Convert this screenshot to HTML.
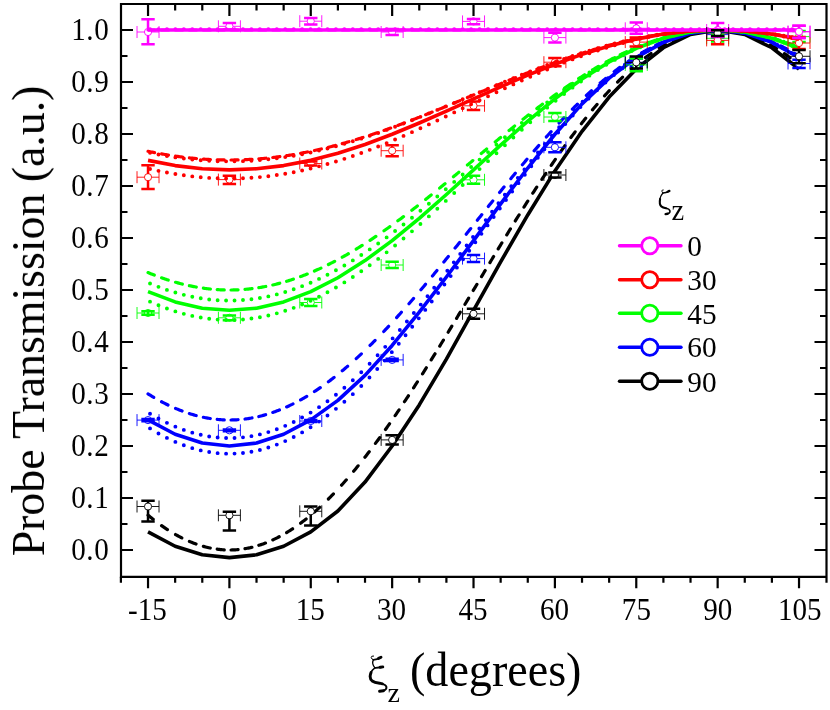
<!DOCTYPE html>
<html><head><meta charset="utf-8"><title>chart</title>
<style>
html,body{margin:0;padding:0;background:#fff;}
body{width:830px;height:710px;position:relative;overflow:hidden;font-family:"Liberation Serif",serif;}
.t{font-family:"Liberation Serif",serif;fill:#000;}
.tg{opacity:0.999;}
</style></head><body>
<svg width="830" height="710" viewBox="0 0 830 710" style="position:absolute;left:0;top:0">
<rect x="0" y="0" width="830" height="710" fill="#fff"/>
<path d="M148.03 531.81 L175.15 546.28 L202.28 554.79 L229.40 557.59 L256.52 554.79 L283.65 546.28 L310.77 531.81 L337.90 511.01 L365.02 482.08 L392.15 446.00 L419.27 404.93 L446.40 359.12 L473.52 310.28 L500.65 261.90 L527.77 214.94 L554.90 170.92 L582.02 131.32 L609.15 97.05 L636.27 68.99 L663.40 47.75 L690.52 34.49 L717.65 30.00 L744.77 34.49 L771.90 47.75 L799.02 68.99" stroke="#000000" fill="none" stroke-width="3.6" stroke-linejoin="round"/>
<g stroke="#000000" fill="none" stroke-linecap="round">
<path d="M148.03 515.17L149.11 516.07L150.19 516.96L151.28 517.84L152.37 518.71L153.18 519.35M161.59 525.64L162.67 526.40L163.76 527.15L164.84 527.89L165.93 528.62L167.01 529.33L167.42 529.60M175.56 534.55L176.64 535.16L177.73 535.76L178.81 536.35L179.90 536.92L180.98 537.48L181.80 537.90M189.39 541.43L190.48 541.89L191.56 542.33L192.65 542.76L193.73 543.18L194.82 543.59L195.90 543.98L196.04 544.03M203.36 546.36L204.44 546.66L205.53 546.94L206.62 547.21L207.70 547.47L208.78 547.72L209.87 547.95L210.28 548.03M217.19 549.20L218.28 549.33L219.36 549.46L220.45 549.57L221.53 549.67L222.62 549.75L223.70 549.83L224.25 549.86M231.03 549.99L232.11 549.96L233.20 549.92L234.28 549.87L235.37 549.81L236.45 549.73L237.54 549.64L238.08 549.59M245.00 548.69L246.08 548.50L247.17 548.30L248.25 548.09L249.34 547.86L250.42 547.63L251.51 547.37L251.91 547.28M258.83 545.35L259.92 545.00L261.00 544.64L262.09 544.27L263.17 543.89L264.26 543.49L265.34 543.08L265.48 543.03M272.80 539.93L273.88 539.42L274.97 538.90L276.06 538.37L277.14 537.83L278.23 537.27L279.17 536.78M286.63 532.57L287.72 531.91L288.80 531.24L289.89 530.55L290.97 529.86L292.06 529.15L292.60 528.80M300.60 523.19L301.69 522.38L302.77 521.56L303.86 520.73L304.94 519.89L306.03 519.03L306.16 518.92M314.44 512.04L315.52 511.09L316.61 510.13L317.69 509.16L318.78 508.18L319.73 507.31M328.41 499.00L329.49 497.92L330.58 496.82L331.66 495.72L332.75 494.60L333.42 493.90M341.56 485.18L342.65 483.97L343.73 482.76L344.82 481.54L345.90 480.31L346.31 479.84M353.63 471.26L354.72 469.96L355.80 468.64L356.89 467.32L357.97 465.99L358.11 465.82M364.89 457.30L365.97 455.90L367.06 454.50L368.14 453.09L369.23 451.68M375.47 443.37L376.55 441.90L377.64 440.43L378.72 438.94L379.67 437.64M385.50 429.51L386.59 427.97L387.67 426.43L388.76 424.88L389.57 423.72M395.13 415.65L396.22 414.06L397.30 412.46L398.39 410.86L399.07 409.85M404.49 401.73L405.58 400.09L406.66 398.44L407.75 396.79L408.43 395.75M413.58 387.82L414.66 386.13L415.75 384.45L416.83 382.75L417.38 381.90M422.53 373.79L423.62 372.07L424.70 370.34L425.79 368.62L426.33 367.75M431.21 359.92L432.29 358.17L433.38 356.42L434.46 354.66L435.01 353.78M439.75 346.05L440.84 344.28L441.92 342.50L443.01 340.72L443.42 340.06M448.16 332.24L449.25 330.45L450.33 328.65L451.42 326.86L451.82 326.19M456.57 318.31L457.66 316.50L458.74 314.69L459.83 312.89L460.23 312.21M464.98 304.29L466.07 302.47L467.15 300.66L468.24 298.85L468.64 298.17M473.25 290.45L474.34 288.64L475.42 286.82L476.51 285.01L476.92 284.33M481.53 276.62L482.61 274.81L483.70 273.00L484.78 271.18L485.19 270.51M489.94 262.60L491.02 260.79L492.11 258.99L493.19 257.19L493.60 256.51M498.21 248.88L499.29 247.09L500.38 245.30L501.46 243.51L501.87 242.84M506.75 234.83L507.84 233.06L508.92 231.29L510.01 229.52L510.41 228.86M515.30 220.96L516.38 219.21L517.47 217.46L518.55 215.72L519.10 214.85M523.98 207.07L525.06 205.35L526.15 203.64L527.23 201.93L527.77 201.07M532.79 193.23L533.88 191.55L534.96 189.87L536.05 188.20L536.73 187.16M541.88 179.30L542.97 177.66L544.05 176.02L545.13 174.39L545.81 173.38M551.24 165.34L552.32 163.75L553.41 162.17L554.49 160.59L555.31 159.41M560.87 151.45L561.95 149.92L563.04 148.39L564.12 146.88L564.94 145.74M570.90 137.54L571.99 136.08L573.07 134.62L574.16 133.17L575.11 131.90M581.35 123.75L582.43 122.35L583.52 120.97L584.60 119.60L585.69 118.23M592.47 109.88L593.55 108.57L594.64 107.28L595.72 105.99L596.81 104.71L597.08 104.40M604.54 95.87L605.62 94.67L606.71 93.48L607.79 92.29L608.88 91.12L609.29 90.68M617.56 82.08L618.64 81.00L619.73 79.92L620.81 78.86L621.90 77.80L622.58 77.15M631.53 68.91L632.61 67.96L633.70 67.02L634.78 66.09L635.87 65.17L636.95 64.27M645.36 57.62L646.45 56.81L647.53 56.02L648.62 55.23L649.70 54.46L650.79 53.69L651.06 53.50M659.33 48.09L660.42 47.43L661.50 46.78L662.59 46.15L663.67 45.53L664.76 44.91L665.43 44.54M673.16 40.58L674.25 40.07L675.34 39.58L676.42 39.10L677.50 38.63L678.59 38.17L679.67 37.72M687.13 35.00L688.22 34.65L689.30 34.31L690.39 33.99L691.47 33.68L692.56 33.38L693.64 33.10L693.92 33.03M700.97 31.50L702.05 31.31L703.14 31.13L704.22 30.97L705.31 30.82L706.39 30.68L707.48 30.56L708.02 30.50M714.94 30.04L716.02 30.01L717.11 30.00L718.19 30.00L719.28 30.01L720.36 30.04L721.45 30.08L721.99 30.10M728.77 30.67L729.86 30.80L730.94 30.95L732.03 31.11L733.11 31.29L734.20 31.47L735.28 31.67L735.69 31.75M742.74 33.38L743.83 33.68L744.91 33.99L746.00 34.31L747.08 34.65L748.17 35.00L749.25 35.36L749.52 35.45M756.57 38.11L757.66 38.57L758.74 39.04L759.83 39.52L760.91 40.01L762.00 40.51L763.08 41.03M770.54 44.91L771.63 45.53L772.71 46.15L773.80 46.78L774.88 47.43L775.97 48.09L776.65 48.51M784.38 53.60L785.46 54.36L786.55 55.13L787.63 55.92L788.72 56.71L789.80 57.52L790.07 57.72M798.35 64.27L799.02 64.83" stroke-width="3.2"/>
</g>
<g stroke="#0000ff" fill="none">
<circle cx="148.03" cy="420.10" r="3.6" fill="#fff" stroke-width="0.9"/>
<path d="M137.03 420.10H144.43M151.62 420.10H159.03M137.03 414.10V426.10M159.03 414.10V426.10" stroke-width="0.9"/>
<path d="M148.03 418.90V421.30M141.33 418.90H154.72M141.33 421.30H154.72" stroke-width="2.5"/>
</g>
<g stroke="#0000ff" fill="none">
<circle cx="229.40" cy="430.30" r="3.6" fill="#fff" stroke-width="0.9"/>
<path d="M218.40 430.30H225.80M233.00 430.30H240.40M218.40 424.30V436.30M240.40 424.30V436.30" stroke-width="0.9"/>
<path d="M229.40 429.40V431.20M222.70 429.40H236.10M222.70 431.20H236.10" stroke-width="2.5"/>
</g>
<g stroke="#0000ff" fill="none">
<circle cx="310.77" cy="421.00" r="3.6" fill="#fff" stroke-width="0.9"/>
<path d="M299.77 421.00H307.17M314.38 421.00H321.77M299.77 415.00V427.00M321.77 415.00V427.00" stroke-width="0.9"/>
<path d="M310.77 419.90V422.10M304.07 419.90H317.47M304.07 422.10H317.47" stroke-width="2.5"/>
</g>
<g stroke="#0000ff" fill="none">
<circle cx="392.15" cy="359.90" r="3.6" fill="#fff" stroke-width="0.9"/>
<path d="M381.15 359.90H388.55M395.75 359.90H403.15M381.15 353.90V365.90M403.15 353.90V365.90" stroke-width="0.9"/>
<path d="M392.15 358.80V361.00M385.45 358.80H398.85M385.45 361.00H398.85" stroke-width="2.5"/>
</g>
<g stroke="#0000ff" fill="none">
<circle cx="473.52" cy="258.60" r="3.6" fill="#fff" stroke-width="0.9"/>
<path d="M462.52 258.60H469.92M477.12 258.60H484.52M462.52 252.60V264.60M484.52 252.60V264.60" stroke-width="0.9"/>
<path d="M473.52 255.30V255.00M466.82 255.00H480.22M466.82 262.00H480.22" stroke-width="2.5"/>
</g>
<g stroke="#0000ff" fill="none">
<circle cx="554.90" cy="147.30" r="3.6" fill="#fff" stroke-width="0.9"/>
<path d="M543.90 147.30H551.30M558.50 147.30H565.90M543.90 141.30V153.30M565.90 141.30V153.30" stroke-width="0.9"/>
<path d="M554.90 144.00V142.30M554.90 150.60V152.30M548.20 142.30H561.60M548.20 152.30H561.60" stroke-width="2.5"/>
</g>
<g stroke="#0000ff" fill="none">
<circle cx="636.27" cy="62.40" r="3.6" fill="#fff" stroke-width="0.9"/>
<path d="M625.27 62.40H632.67M639.88 62.40H647.27M625.27 56.40V68.40M647.27 56.40V68.40" stroke-width="0.9"/>
<path d="M636.27 59.10V58.60M636.27 65.70V66.20M629.57 58.60H642.98M629.57 66.20H642.98" stroke-width="2.5"/>
</g>
<g stroke="#0000ff" fill="none">
<circle cx="717.65" cy="34.60" r="3.6" fill="#fff" stroke-width="0.9"/>
<path d="M706.65 34.60H714.05M721.25 34.60H728.65M706.65 28.60V40.60M728.65 28.60V40.60" stroke-width="0.9"/>
<path d="M710.95 31.60H724.35M710.95 37.60H724.35" stroke-width="2.5"/>
</g>
<g stroke="#0000ff" fill="none">
<circle cx="799.02" cy="63.50" r="3.6" fill="#fff" stroke-width="0.9"/>
<path d="M788.02 63.50H795.42M802.62 63.50H810.02M788.02 57.50V69.50M810.02 57.50V69.50" stroke-width="0.9"/>
<path d="M799.02 60.20V59.80M799.02 66.80V68.10M792.32 59.80H805.73M792.32 68.10H805.73" stroke-width="2.5"/>
</g>
<path d="M148.03 419.87 L175.15 434.24 L202.28 443.04 L229.40 446.00 L256.52 443.04 L283.65 434.24 L310.77 419.87 L337.90 400.36 L365.02 375.40 L392.15 345.42 L419.27 312.09 L446.40 276.99 L473.52 240.60 L500.65 203.84 L527.77 168.03 L554.90 134.25 L582.02 103.91 L609.15 78.17 L636.27 57.46 L663.40 42.32 L690.52 33.10 L717.65 30.00 L744.77 33.10 L771.90 42.32 L799.02 57.46" stroke="#0000ff" fill="none" stroke-width="3.6" stroke-linejoin="round"/>
<g stroke="#0000ff" fill="none" stroke-linecap="round">
<path d="M148.03 393.87L149.11 394.55L150.19 395.22L151.28 395.88L152.37 396.53L153.45 397.17L153.72 397.33M161.59 401.73L162.67 402.30L163.76 402.86L164.84 403.42L165.93 403.96L167.01 404.50L167.96 404.96M175.56 408.41L176.64 408.87L177.73 409.32L178.81 409.76L179.90 410.19L180.98 410.61L182.07 411.03M189.39 413.57L190.48 413.92L191.56 414.25L192.65 414.57L193.73 414.89L194.82 415.19L195.90 415.49L196.17 415.56M203.36 417.27L204.44 417.49L205.53 417.70L206.62 417.91L207.70 418.10L208.78 418.29L209.87 418.46L210.28 418.53M217.19 419.40L218.28 419.50L219.36 419.59L220.45 419.68L221.53 419.75L222.62 419.81L223.70 419.87L224.25 419.89M231.03 419.99L232.11 419.97L233.20 419.94L234.28 419.90L235.37 419.86L236.45 419.80L237.54 419.73L238.08 419.70M245.00 419.02L246.08 418.88L247.17 418.73L248.25 418.57L249.34 418.40L250.42 418.22L251.51 418.03L252.05 417.93M258.83 416.51L259.92 416.25L261.00 415.98L262.09 415.70L263.17 415.41L264.26 415.12L265.34 414.81L265.61 414.73M272.80 412.45L273.88 412.07L274.97 411.68L276.06 411.28L277.14 410.87L278.23 410.46L279.31 410.03L279.45 409.98M286.63 406.93L287.72 406.43L288.80 405.93L289.89 405.42L290.97 404.89L292.06 404.37L293.01 403.89M300.60 399.89L301.69 399.28L302.77 398.67L303.86 398.05L304.94 397.41L306.03 396.77L306.71 396.37M314.44 391.53L315.52 390.82L316.61 390.10L317.69 389.37L318.78 388.63L319.86 387.89L320.27 387.61M328.41 381.75L329.49 380.94L330.58 380.12L331.66 379.29L332.75 378.45L333.83 377.61L334.10 377.40M342.24 370.82L343.32 369.91L344.41 369.00L345.50 368.08L346.58 367.15L347.66 366.21M356.21 358.61L357.29 357.62L358.38 356.61L359.46 355.61L360.55 354.59L361.36 353.83M370.04 345.46L371.13 344.38L372.21 343.30L373.30 342.22L374.38 341.13L375.06 340.44M383.74 331.49L384.83 330.35L385.91 329.20L387.00 328.05L388.08 326.89L388.62 326.31M396.63 317.60L397.71 316.40L398.80 315.19L399.88 313.98L400.97 312.77L401.37 312.31M408.97 303.69L410.05 302.44L411.14 301.19L412.22 299.94L413.31 298.68L413.58 298.36M420.90 289.77L421.99 288.49L423.07 287.20L424.16 285.91L425.24 284.61L425.51 284.29M432.43 275.96L433.52 274.65L434.60 273.33L435.69 272.01L436.77 270.69L436.91 270.52M443.82 262.04L444.91 260.70L445.99 259.36L447.08 258.02L448.16 256.68L448.30 256.51M455.08 248.09L456.16 246.74L457.25 245.38L458.34 244.03L459.42 242.67L459.56 242.50M466.20 234.19L467.29 232.83L468.37 231.47L469.46 230.10L470.54 228.74L470.68 228.57M477.32 220.24L478.41 218.87L479.49 217.51L480.58 216.15L481.66 214.79L481.80 214.62M488.31 206.48L489.39 205.12L490.48 203.77L491.56 202.42L492.65 201.07L492.78 200.90M499.56 192.48L500.65 191.14L501.74 189.80L502.82 188.46L503.90 187.12L504.04 186.96M510.82 178.65L511.91 177.33L512.99 176.01L514.08 174.69L515.16 173.38L515.30 173.22M522.35 164.74L523.44 163.45L524.52 162.16L525.61 160.87L526.69 159.59L526.96 159.27M534.15 150.85L535.23 149.59L536.32 148.34L537.40 147.09L538.49 145.84L538.76 145.53M546.36 136.93L547.44 135.71L548.53 134.51L549.61 133.30L550.70 132.10L551.10 131.66M559.10 122.97L560.19 121.81L561.27 120.66L562.36 119.51L563.44 118.37L563.99 117.80M572.40 109.15L573.48 108.05L574.57 106.97L575.65 105.89L576.74 104.81L577.41 104.14M586.37 95.53L587.45 94.52L588.53 93.51L589.62 92.51L590.70 91.51L591.52 90.77M600.20 83.08L601.28 82.15L602.37 81.23L603.45 80.31L604.54 79.41L605.62 78.50M614.17 71.65L615.25 70.82L616.34 69.99L617.42 69.16L618.51 68.35L619.59 67.54L619.86 67.34M628.00 61.55L629.09 60.81L630.17 60.08L631.26 59.36L632.34 58.65L633.43 57.94L633.83 57.68M641.97 52.67L643.06 52.03L644.14 51.41L645.23 50.79L646.31 50.19L647.40 49.59L648.07 49.22M655.80 45.24L656.89 44.71L657.98 44.20L659.06 43.69L660.14 43.20L661.23 42.71L662.18 42.29M669.77 39.18L670.86 38.77L671.94 38.37L673.03 37.98L674.11 37.60L675.20 37.23L676.28 36.87L676.42 36.82M683.61 34.66L684.69 34.37L685.78 34.09L686.86 33.81L687.95 33.55L689.03 33.30L690.12 33.05L690.52 32.96M697.44 31.65L698.53 31.47L699.61 31.31L700.70 31.16L701.78 31.02L702.87 30.88L703.95 30.76L704.49 30.70M711.41 30.16L712.50 30.11L713.58 30.07L714.67 30.04L715.75 30.01L716.84 30.00L717.92 30.00L718.46 30.00M725.25 30.23L726.33 30.30L727.41 30.38L728.50 30.48L729.59 30.57L730.67 30.68L731.75 30.80L732.30 30.87M739.21 31.87L740.30 32.07L741.38 32.27L742.47 32.48L743.55 32.70L744.64 32.93L745.72 33.17L746.13 33.27M753.05 35.04L754.13 35.35L755.22 35.67L756.30 36.00L757.39 36.34L758.47 36.69L759.56 37.05L759.83 37.14M767.02 39.76L768.10 40.19L769.19 40.62L770.27 41.07L771.36 41.53L772.44 41.99L773.53 42.47M780.85 45.90L781.94 46.45L783.02 47.00L784.11 47.56L785.19 48.13L786.28 48.70L787.09 49.14M794.82 53.55L795.91 54.20L796.99 54.86L798.08 55.53L799.02 56.13" stroke-width="3.2"/>
<path d="M150.03 413.68h0.01M158.47 418.51h0.01M166.93 422.83h0.01M175.38 426.64h0.01M183.82 429.91h0.01M192.28 432.64h0.01M200.73 434.82h0.01M209.18 436.45h0.01M217.62 437.51h0.01M226.08 438.02h0.01M234.53 437.96h0.01M242.98 437.33h0.01M251.43 436.15h0.01M259.88 434.40h0.01M268.33 432.10h0.01M276.78 429.26h0.01M285.23 425.87h0.01M293.68 421.96h0.01M302.12 417.53h0.01M310.57 412.59h0.01M319.02 407.17h0.01M327.47 401.26h0.01M335.92 394.80h0.01M344.37 387.79h0.01M352.82 380.24h0.01M361.27 372.18h0.01M369.62 363.75h0.01M377.58 355.30h0.01M385.23 346.85h0.01M392.63 338.40h0.01M399.83 329.95h0.01M406.90 321.50h0.01M413.85 313.05h0.01M420.73 304.60h0.01M427.50 296.15h0.01M434.18 287.70h0.01M440.79 279.25h0.01M447.32 270.80h0.01M453.80 262.35h0.01M460.24 253.90h0.01M466.63 245.45h0.01M473.01 237.00h0.01M479.36 228.55h0.01M485.71 220.10h0.01M492.06 211.65h0.01M498.43 203.20h0.01M504.84 194.75h0.01M511.30 186.30h0.01M517.83 177.85h0.01M524.44 169.40h0.01M531.14 160.95h0.01M537.92 152.50h0.01M544.83 144.05h0.01M551.90 135.60h0.01M559.15 127.15h0.01M566.65 118.70h0.01M574.44 110.25h0.01M582.60 101.80h0.01M591.04 93.50h0.01M599.49 85.63h0.01M607.94 78.21h0.01M616.39 71.26h0.01M624.84 64.81h0.01M633.29 58.87h0.01M641.74 53.46h0.01M650.19 48.58h0.01M658.64 44.26h0.01M667.09 40.49h0.01M675.54 37.29h0.01M683.99 34.67h0.01M692.44 32.62h0.01M700.89 31.16h0.01M709.34 30.29h0.01M717.79 30.00h0.01M726.24 30.30h0.01M734.69 31.20h0.01M743.14 32.68h0.01M751.59 34.74h0.01M760.04 37.39h0.01M768.49 40.61h0.01M776.94 44.39h0.01M785.39 48.74h0.01M793.84 53.63h0.01" stroke-width="3.9"/>
<path d="M150.03 428.40h0.01M158.47 433.43h0.01M166.93 437.92h0.01M175.38 441.88h0.01M183.82 445.29h0.01M192.28 448.13h0.01M200.73 450.38h0.01M209.18 452.06h0.01M217.62 453.16h0.01M226.08 453.67h0.01M234.53 453.61h0.01M242.98 452.97h0.01M251.43 451.75h0.01M259.88 449.95h0.01M268.33 447.57h0.01M276.78 444.61h0.01M285.23 441.09h0.01M293.68 437.01h0.01M302.12 432.40h0.01M310.57 427.26h0.01M319.02 421.61h0.01M327.47 415.47h0.01M335.92 408.86h0.01M344.37 401.78h0.01M352.82 394.15h0.01M361.27 385.96h0.01M369.46 377.51h0.01M377.22 369.06h0.01M384.65 360.61h0.01M391.81 352.16h0.01M398.76 343.71h0.01M405.54 335.26h0.01M412.20 326.81h0.01M418.76 318.36h0.01M425.27 309.91h0.01M431.72 301.46h0.01M438.10 293.01h0.01M444.41 284.56h0.01M450.66 276.11h0.01M456.88 267.66h0.01M463.05 259.21h0.01M469.20 250.76h0.01M475.33 242.31h0.01M481.44 233.86h0.01M487.55 225.41h0.01M493.67 216.96h0.01M499.81 208.51h0.01M505.97 200.06h0.01M512.19 191.61h0.01M518.47 183.16h0.01M524.82 174.71h0.01M531.27 166.26h0.01M537.80 157.81h0.01M544.44 149.36h0.01M551.21 140.91h0.01M558.15 132.46h0.01M565.30 124.01h0.01M572.71 115.56h0.01M580.43 107.11h0.01M588.54 98.66h0.01M596.98 90.33h0.01M605.43 82.46h0.01M613.88 75.08h0.01M622.33 68.20h0.01M630.78 61.85h0.01M639.23 56.05h0.01M647.68 50.80h0.01M656.13 46.13h0.01M664.58 42.03h0.01M673.03 38.52h0.01M681.48 35.61h0.01M689.93 33.30h0.01M698.38 31.60h0.01M706.83 30.50h0.01M715.28 30.02h0.01M723.73 30.16h0.01M732.18 30.91h0.01M740.63 32.27h0.01M749.08 34.24h0.01M757.53 36.81h0.01M765.98 39.98h0.01M774.43 43.75h0.01M782.88 48.10h0.01M791.33 53.03h0.01" stroke-width="3.9"/>
</g>
<g stroke="#00ff00" fill="none">
<circle cx="148.03" cy="313.00" r="3.6" fill="#fff" stroke-width="0.9"/>
<path d="M137.03 313.00H144.43M151.62 313.00H159.03M137.03 307.00V319.00M159.03 307.00V319.00" stroke-width="0.9"/>
<path d="M148.03 311.20V314.80M141.33 311.20H154.72M141.33 314.80H154.72" stroke-width="2.5"/>
</g>
<g stroke="#00ff00" fill="none">
<circle cx="229.40" cy="317.80" r="3.6" fill="#fff" stroke-width="0.9"/>
<path d="M218.40 317.80H225.80M233.00 317.80H240.40M218.40 311.80V323.80M240.40 311.80V323.80" stroke-width="0.9"/>
<path d="M222.70 315.40H236.10M222.70 320.20H236.10" stroke-width="2.5"/>
</g>
<g stroke="#00ff00" fill="none">
<circle cx="310.77" cy="302.50" r="3.6" fill="#fff" stroke-width="0.9"/>
<path d="M299.77 302.50H307.17M314.38 302.50H321.77M299.77 296.50V308.50M321.77 296.50V308.50" stroke-width="0.9"/>
<path d="M304.07 299.00H317.47M304.07 306.00H317.47" stroke-width="2.5"/>
</g>
<g stroke="#00ff00" fill="none">
<circle cx="392.15" cy="265.00" r="3.6" fill="#fff" stroke-width="0.9"/>
<path d="M381.15 265.00H388.55M395.75 265.00H403.15M381.15 259.00V271.00M403.15 259.00V271.00" stroke-width="0.9"/>
<path d="M385.45 261.80H398.85M385.45 268.10H398.85" stroke-width="2.5"/>
</g>
<g stroke="#00ff00" fill="none">
<circle cx="473.52" cy="179.80" r="3.6" fill="#fff" stroke-width="0.9"/>
<path d="M462.52 179.80H469.92M477.12 179.80H484.52M462.52 173.80V185.80M484.52 173.80V185.80" stroke-width="0.9"/>
<path d="M473.52 176.50V175.80M473.52 183.10V183.80M466.82 175.80H480.22M466.82 183.80H480.22" stroke-width="2.5"/>
</g>
<g stroke="#00ff00" fill="none">
<circle cx="554.90" cy="117.00" r="3.6" fill="#fff" stroke-width="0.9"/>
<path d="M543.90 117.00H551.30M558.50 117.00H565.90M543.90 111.00V123.00M565.90 111.00V123.00" stroke-width="0.9"/>
<path d="M554.90 113.70V113.00M554.90 120.30V121.00M548.20 113.00H561.60M548.20 121.00H561.60" stroke-width="2.5"/>
</g>
<g stroke="#00ff00" fill="none">
<circle cx="636.27" cy="64.90" r="3.6" fill="#fff" stroke-width="0.9"/>
<path d="M625.27 64.90H632.67M639.88 64.90H647.27M625.27 58.90V70.90M647.27 58.90V70.90" stroke-width="0.9"/>
<path d="M636.27 61.60V58.60M636.27 68.20V71.30M629.57 58.60H642.98M629.57 71.30H642.98" stroke-width="2.5"/>
</g>
<g stroke="#00ff00" fill="none">
<circle cx="717.65" cy="38.30" r="3.6" fill="#fff" stroke-width="0.9"/>
<path d="M706.65 38.30H714.05M721.25 38.30H728.65M706.65 32.30V44.30M728.65 32.30V44.30" stroke-width="0.9"/>
<path d="M710.95 35.00H724.35M710.95 41.50H724.35" stroke-width="2.5"/>
</g>
<g stroke="#00ff00" fill="none">
<circle cx="799.02" cy="36.60" r="3.6" fill="#fff" stroke-width="0.9"/>
<path d="M788.02 36.60H795.42M802.62 36.60H810.02M788.02 30.60V42.60M810.02 30.60V42.60" stroke-width="0.9"/>
<path d="M799.02 33.30V31.00M799.02 39.90V42.00M792.32 31.00H805.73M792.32 42.00H805.73" stroke-width="2.5"/>
</g>
<path d="M148.03 291.67 L175.15 301.90 L202.28 308.17 L229.40 310.28 L256.52 308.17 L283.65 301.90 L310.77 291.67 L337.90 277.76 L365.02 260.58 L392.15 240.60 L419.27 218.35 L446.40 194.50 L473.52 169.88 L500.65 145.15 L527.77 121.15 L554.90 98.90 L582.02 79.04 L609.15 62.01 L636.27 48.27 L663.40 38.20 L690.52 32.06 L717.65 30.00 L744.77 32.06 L771.90 38.20 L799.02 48.27" stroke="#00ff00" fill="none" stroke-width="3.6" stroke-linejoin="round"/>
<g stroke="#00ff00" fill="none" stroke-linecap="round">
<path d="M148.03 272.58L149.11 273.03L150.19 273.48L151.28 273.92L152.37 274.35L153.45 274.78L154.26 275.10M161.59 277.82L162.67 278.20L163.76 278.58L164.84 278.94L165.93 279.31L167.01 279.67L168.10 280.02L168.23 280.06M175.56 282.28L176.64 282.58L177.73 282.88L178.81 283.17L179.90 283.46L180.98 283.74L182.07 284.02L182.34 284.09M189.39 285.72L190.48 285.94L191.56 286.17L192.65 286.38L193.73 286.59L194.82 286.79L195.90 286.99L196.31 287.06M203.36 288.18L204.44 288.33L205.53 288.47L206.62 288.61L207.70 288.73L208.78 288.86L209.87 288.97L210.41 289.03M217.19 289.60L218.28 289.67L219.36 289.73L220.45 289.78L221.53 289.83L222.62 289.88L223.70 289.91L224.25 289.93M231.03 289.99L232.11 289.98L233.20 289.96L234.28 289.94L235.37 289.90L236.45 289.87L237.54 289.82L238.08 289.80M245.00 289.35L246.08 289.25L247.17 289.15L248.25 289.04L249.34 288.93L250.42 288.81L251.51 288.69L252.05 288.62M258.83 287.68L259.92 287.50L261.00 287.32L262.09 287.14L263.17 286.94L264.26 286.74L265.34 286.54L265.75 286.46M272.80 284.96L273.88 284.71L274.97 284.45L276.06 284.19L277.14 283.91L278.23 283.64L279.31 283.35L279.72 283.25M286.63 281.28L287.72 280.95L288.80 280.62L289.89 280.28L290.97 279.93L292.06 279.58L293.14 279.22L293.42 279.13M300.60 276.59L301.69 276.19L302.77 275.78L303.86 275.36L304.94 274.94L306.03 274.52L307.11 274.08L307.25 274.03M314.44 271.02L315.52 270.55L316.61 270.07L317.69 269.58L318.78 269.09L319.86 268.59L320.95 268.09M328.41 264.50L329.49 263.96L330.58 263.41L331.66 262.86L332.75 262.30L333.83 261.74L334.64 261.31M342.24 257.21L343.32 256.61L344.41 256.00L345.50 255.38L346.58 254.77L347.66 254.14L348.34 253.75M356.21 249.07L357.29 248.41L358.38 247.74L359.46 247.07L360.55 246.40L361.63 245.71L362.18 245.37M370.04 240.30L371.13 239.59L372.21 238.87L373.30 238.15L374.38 237.42L375.47 236.69L375.88 236.41M384.01 230.80L385.10 230.04L386.18 229.27L387.27 228.50L388.35 227.73L389.44 226.95L389.84 226.66M397.85 220.83L398.93 220.03L400.02 219.22L401.10 218.41L402.19 217.60L403.27 216.78L403.54 216.58M411.82 210.27L412.90 209.43L413.99 208.59L415.07 207.75L416.16 206.91L417.24 206.06L417.38 205.95M425.65 199.42L426.73 198.55L427.82 197.68L428.90 196.81L429.99 195.94L431.07 195.07L431.21 194.96M439.62 188.14L440.70 187.25L441.79 186.36L442.87 185.47L443.96 184.58L445.04 183.69M453.45 176.74L454.54 175.84L455.62 174.94L456.71 174.04L457.79 173.14L458.88 172.23M467.42 165.10L468.51 164.20L469.59 163.29L470.68 162.38L471.76 161.47L472.85 160.57M481.26 153.54L482.34 152.63L483.43 151.72L484.51 150.82L485.60 149.91L486.68 149.01M495.23 141.91L496.31 141.01L497.39 140.11L498.48 139.22L499.56 138.32L500.65 137.43M509.06 130.54L510.14 129.65L511.23 128.77L512.31 127.89L513.40 127.01L514.48 126.13L514.62 126.02M523.03 119.29L524.11 118.43L525.20 117.57L526.28 116.71L527.37 115.86L528.45 115.00L528.59 114.90M536.86 108.47L537.95 107.64L539.03 106.81L540.12 105.99L541.20 105.16L542.29 104.34L542.56 104.14M550.83 97.97L551.92 97.17L553.00 96.38L554.09 95.59L555.17 94.80L556.26 94.02L556.53 93.82M564.66 88.06L565.75 87.30L566.84 86.55L567.92 85.81L569.00 85.06L570.09 84.32L570.50 84.05M578.63 78.63L579.72 77.92L580.80 77.22L581.89 76.52L582.97 75.83L584.06 75.14L584.60 74.80M592.47 69.94L593.55 69.29L594.64 68.64L595.72 68.00L596.81 67.36L597.89 66.72L598.57 66.33M606.44 61.89L607.52 61.29L608.61 60.71L609.69 60.12L610.78 59.54L611.86 58.97L612.68 58.54M620.27 54.69L621.36 54.16L622.44 53.64L623.53 53.12L624.61 52.61L625.70 52.10L626.65 51.66M634.24 48.28L635.33 47.82L636.41 47.36L637.50 46.91L638.58 46.46L639.67 46.03L640.75 45.59M648.07 42.81L649.16 42.42L650.24 42.04L651.33 41.66L652.41 41.29L653.50 40.92L654.58 40.56L654.72 40.51M662.04 38.23L663.13 37.92L664.21 37.61L665.30 37.31L666.38 37.01L667.47 36.72L668.55 36.43L668.83 36.36M675.88 34.67L676.96 34.43L678.05 34.20L679.13 33.97L680.22 33.75L681.30 33.54L682.39 33.33L682.79 33.26M689.85 32.07L690.93 31.92L692.02 31.76L693.10 31.62L694.19 31.48L695.27 31.35L696.36 31.22L696.90 31.16M703.68 30.52L704.77 30.45L705.85 30.37L706.94 30.31L708.02 30.25L709.11 30.20L710.19 30.15L710.73 30.13M717.65 30.00L718.74 30.00L719.82 30.01L720.90 30.03L721.99 30.05L723.08 30.08L724.16 30.11L724.70 30.13M731.48 30.51L732.57 30.60L733.65 30.69L734.74 30.79L735.82 30.89L736.91 31.00L737.99 31.11L738.54 31.17M745.45 32.07L746.54 32.24L747.62 32.41L748.71 32.59L749.79 32.77L750.88 32.96L751.96 33.16L752.37 33.23M759.29 34.64L760.37 34.88L761.46 35.13L762.54 35.39L763.63 35.65L764.71 35.91L765.80 36.19L766.20 36.29M773.26 38.23L774.34 38.55L775.43 38.88L776.51 39.21L777.60 39.55L778.68 39.90L779.77 40.25L780.04 40.33M787.09 42.76L788.17 43.16L789.26 43.56L790.35 43.96L791.43 44.38L792.51 44.79L793.60 45.22L793.74 45.27" stroke-width="3.2"/>
<path d="M150.03 283.47h0.01M158.47 286.86h0.01M166.93 289.89h0.01M175.38 292.56h0.01M183.82 294.86h0.01M192.28 296.78h0.01M200.73 298.31h0.01M209.18 299.45h0.01M217.62 300.20h0.01M226.08 300.55h0.01M234.53 300.51h0.01M242.98 300.07h0.01M251.43 299.24h0.01M259.88 298.02h0.01M268.33 296.40h0.01M276.78 294.40h0.01M285.23 292.03h0.01M293.68 289.28h0.01M302.12 286.17h0.01M310.57 282.70h0.01M319.02 278.89h0.01M327.47 274.74h0.01M335.92 270.27h0.01M344.37 265.48h0.01M352.82 260.40h0.01M361.27 255.04h0.01M369.72 249.40h0.01M378.17 243.51h0.01M386.62 237.38h0.01M395.07 231.02h0.01M403.52 224.45h0.01M411.97 217.70h0.01M420.42 210.77h0.01M428.87 203.71h0.01M437.32 196.52h0.01M445.77 189.24h0.01M454.22 181.88h0.01M462.67 174.48h0.01M471.12 167.04h0.01M479.57 159.59h0.01M488.02 152.12h0.01M496.47 144.69h0.01M504.92 137.31h0.01M513.37 130.02h0.01M521.82 122.85h0.01M530.27 115.83h0.01M538.72 108.99h0.01M547.17 102.35h0.01M555.62 95.92h0.01M564.07 89.72h0.01M572.52 83.74h0.01M580.97 78.01h0.01M589.42 72.54h0.01M597.87 67.35h0.01M606.32 62.45h0.01M614.77 57.86h0.01M623.22 53.58h0.01M631.67 49.64h0.01M640.12 46.03h0.01M648.57 42.77h0.01M657.02 39.87h0.01M665.47 37.33h0.01M673.92 35.16h0.01M682.37 33.36h0.01M690.82 31.95h0.01M699.27 30.91h0.01M707.72 30.27h0.01M716.17 30.01h0.01M724.62 30.13h0.01M733.07 30.64h0.01M741.52 31.54h0.01M749.98 32.83h0.01M758.43 34.49h0.01M766.88 36.53h0.01M775.33 38.94h0.01M783.78 41.71h0.01M792.23 44.85h0.01" stroke-width="3.9"/>
<path d="M150.03 301.63h0.01M158.47 305.26h0.01M166.93 308.52h0.01M175.38 311.38h0.01M183.82 313.85h0.01M192.28 315.91h0.01M200.73 317.56h0.01M209.18 318.80h0.01M217.62 319.61h0.01M226.08 319.99h0.01M234.53 319.94h0.01M242.98 319.47h0.01M251.43 318.57h0.01M259.88 317.24h0.01M268.33 315.50h0.01M276.78 313.35h0.01M285.23 310.80h0.01M293.68 307.86h0.01M302.12 304.52h0.01M310.57 300.81h0.01M319.02 296.73h0.01M327.47 292.29h0.01M335.92 287.50h0.01M344.37 282.39h0.01M352.82 276.95h0.01M361.27 271.22h0.01M369.72 265.19h0.01M378.17 258.90h0.01M386.62 252.35h0.01M395.07 245.56h0.01M403.52 238.55h0.01M411.97 231.34h0.01M420.42 223.94h0.01M428.87 216.39h0.01M437.32 208.70h0.01M445.77 200.89h0.01M454.22 193.01h0.01M462.67 185.06h0.01M471.12 177.09h0.01M479.57 169.12h0.01M488.02 161.14h0.01M496.47 153.18h0.01M504.92 145.27h0.01M513.37 137.45h0.01M521.82 129.75h0.01M530.27 122.20h0.01M538.72 114.83h0.01M547.17 107.67h0.01M555.62 100.75h0.01M564.07 94.09h0.01M572.52 87.67h0.01M580.97 81.52h0.01M589.42 75.65h0.01M597.87 70.07h0.01M606.32 64.82h0.01M614.77 59.89h0.01M623.22 55.30h0.01M631.67 51.06h0.01M640.12 47.19h0.01M648.57 43.70h0.01M657.02 40.58h0.01M665.47 37.86h0.01M673.92 35.53h0.01M682.37 33.61h0.01M690.82 32.09h0.01M699.27 30.98h0.01M707.72 30.29h0.01M716.17 30.01h0.01M724.62 30.14h0.01M733.07 30.69h0.01M741.52 31.65h0.01M749.98 33.03h0.01M758.43 34.81h0.01M766.88 37.00h0.01M775.33 39.59h0.01M783.78 42.56h0.01M792.23 45.93h0.01" stroke-width="3.9"/>
</g>
<g stroke="#ff0000" fill="none">
<circle cx="148.03" cy="177.20" r="3.6" fill="#fff" stroke-width="0.9"/>
<path d="M137.03 177.20H144.43M151.62 177.20H159.03M137.03 171.20V183.20M159.03 171.20V183.20" stroke-width="0.9"/>
<path d="M148.03 173.90V165.20M148.03 180.50V189.00M141.33 165.20H154.72M141.33 189.00H154.72" stroke-width="2.5"/>
</g>
<g stroke="#ff0000" fill="none">
<circle cx="229.40" cy="179.60" r="3.6" fill="#fff" stroke-width="0.9"/>
<path d="M218.40 179.60H225.80M233.00 179.60H240.40M218.40 173.60V185.60M240.40 173.60V185.60" stroke-width="0.9"/>
<path d="M229.40 176.30V175.70M229.40 182.90V184.00M222.70 175.70H236.10M222.70 184.00H236.10" stroke-width="2.5"/>
</g>
<g stroke="#ff0000" fill="none">
<circle cx="310.77" cy="163.50" r="3.6" fill="#fff" stroke-width="0.9"/>
<path d="M299.77 163.50H307.17M314.38 163.50H321.77M299.77 157.50V169.50M321.77 157.50V169.50" stroke-width="0.9"/>
<path d="M304.07 161.50H317.47M304.07 165.50H317.47" stroke-width="2.5"/>
</g>
<g stroke="#ff0000" fill="none">
<circle cx="392.15" cy="150.70" r="3.6" fill="#fff" stroke-width="0.9"/>
<path d="M381.15 150.70H388.55M395.75 150.70H403.15M381.15 144.70V156.70M403.15 144.70V156.70" stroke-width="0.9"/>
<path d="M392.15 147.40V145.30M392.15 154.00V156.30M385.45 145.30H398.85M385.45 156.30H398.85" stroke-width="2.5"/>
</g>
<g stroke="#ff0000" fill="none">
<circle cx="473.52" cy="105.80" r="3.6" fill="#fff" stroke-width="0.9"/>
<path d="M462.52 105.80H469.92M477.12 105.80H484.52M462.52 99.80V111.80M484.52 99.80V111.80" stroke-width="0.9"/>
<path d="M473.52 102.50V101.50M473.52 109.10V110.00M466.82 101.50H480.22M466.82 110.00H480.22" stroke-width="2.5"/>
</g>
<g stroke="#ff0000" fill="none">
<circle cx="554.90" cy="62.20" r="3.6" fill="#fff" stroke-width="0.9"/>
<path d="M543.90 62.20H551.30M558.50 62.20H565.90M543.90 56.20V68.20M565.90 56.20V68.20" stroke-width="0.9"/>
<path d="M554.90 58.90V58.00M554.90 65.50V66.20M548.20 58.00H561.60M548.20 66.20H561.60" stroke-width="2.5"/>
</g>
<g stroke="#ff0000" fill="none">
<circle cx="636.27" cy="42.10" r="3.6" fill="#fff" stroke-width="0.9"/>
<path d="M625.27 42.10H632.67M639.88 42.10H647.27M625.27 36.10V48.10M647.27 36.10V48.10" stroke-width="0.9"/>
<path d="M636.27 38.80V37.60M636.27 45.40V46.60M629.57 37.60H642.98M629.57 46.60H642.98" stroke-width="2.5"/>
</g>
<g stroke="#ff0000" fill="none">
<circle cx="717.65" cy="40.40" r="3.6" fill="#fff" stroke-width="0.9"/>
<path d="M706.65 40.40H714.05M721.25 40.40H728.65M706.65 34.40V46.40M728.65 34.40V46.40" stroke-width="0.9"/>
<path d="M717.65 37.10V36.50M717.65 43.70V44.30M710.95 36.50H724.35M710.95 44.30H724.35" stroke-width="2.5"/>
</g>
<g stroke="#ff0000" fill="none">
<circle cx="799.02" cy="43.00" r="3.6" fill="#fff" stroke-width="0.9"/>
<path d="M788.02 43.00H795.42M802.62 43.00H810.02M788.02 37.00V49.00M810.02 37.00V49.00" stroke-width="0.9"/>
<path d="M799.02 39.70V37.00M799.02 46.30V48.90M792.32 37.00H805.73M792.32 48.90H805.73" stroke-width="2.5"/>
</g>
<path d="M148.03 160.36 L175.15 165.60 L202.28 168.80 L229.40 169.88 L256.52 168.80 L283.65 165.60 L310.77 160.36 L337.90 153.24 L365.02 144.44 L392.15 134.25 L419.27 123.00 L446.40 111.08 L473.52 98.90 L500.65 86.81 L527.77 75.13 L554.90 64.22 L582.02 54.39 L609.15 45.94 L636.27 39.11 L663.40 34.10 L690.52 31.03 L717.65 30.00 L744.77 31.03 L771.90 34.10 L799.02 39.11" stroke="#ff0000" fill="none" stroke-width="3.6" stroke-linejoin="round"/>
<g stroke="#ff0000" fill="none" stroke-linecap="round">
<path d="M148.03 151.29L149.11 151.52L150.19 151.74L151.28 151.96L152.37 152.18L153.45 152.39L154.54 152.60M161.59 153.91L162.67 154.10L163.76 154.29L164.84 154.47L165.93 154.65L167.01 154.83L168.10 155.01L168.50 155.07M175.56 156.14L176.64 156.29L177.73 156.44L178.81 156.59L179.90 156.73L180.98 156.87L182.07 157.01L182.61 157.08M189.39 157.86L190.48 157.97L191.56 158.08L192.65 158.19L193.73 158.30L194.82 158.40L195.90 158.50L196.44 158.54M203.36 159.09L204.44 159.16L205.53 159.23L206.62 159.30L207.70 159.37L208.78 159.43L209.87 159.49L210.41 159.52M217.19 159.80L218.28 159.83L219.36 159.86L220.45 159.89L221.53 159.92L222.62 159.94L223.70 159.96L224.25 159.96M231.03 160.00L232.11 159.99L233.20 159.98L234.28 159.97L235.37 159.95L236.45 159.93L237.54 159.91L238.08 159.90M245.00 159.67L246.08 159.63L247.17 159.58L248.25 159.52L249.34 159.47L250.42 159.41L251.51 159.34L252.05 159.31M258.83 158.84L259.92 158.75L261.00 158.66L262.09 158.57L263.17 158.47L264.26 158.37L265.34 158.27L265.88 158.22M272.80 157.48L273.88 157.36L274.97 157.23L276.06 157.09L277.14 156.96L278.23 156.82L279.31 156.68L279.85 156.60M286.63 155.64L287.72 155.48L288.80 155.31L289.89 155.14L290.97 154.96L292.06 154.79L293.14 154.61L293.55 154.54M300.60 153.30L301.69 153.09L302.77 152.89L303.86 152.68L304.94 152.47L306.03 152.26L307.11 152.04L307.52 151.96M314.44 150.51L315.52 150.27L316.61 150.03L317.69 149.79L318.78 149.54L319.86 149.30L320.95 149.05L321.35 148.95M328.41 147.25L329.49 146.98L330.58 146.71L331.66 146.43L332.75 146.15L333.83 145.87L334.92 145.59L335.19 145.51M342.24 143.61L343.32 143.30L344.41 143.00L345.50 142.69L346.58 142.38L347.66 142.07L348.75 141.76L349.02 141.68M356.21 139.54L357.29 139.21L358.38 138.87L359.46 138.54L360.55 138.20L361.63 137.86L362.72 137.52L362.99 137.43M370.04 135.15L371.13 134.79L372.21 134.43L373.30 134.07L374.38 133.71L375.47 133.34L376.55 132.98L376.69 132.93M384.01 130.40L385.10 130.02L386.18 129.64L387.27 129.25L388.35 128.87L389.44 128.48L390.52 128.09L390.66 128.04M397.85 125.42L398.93 125.01L400.02 124.61L401.10 124.21L402.19 123.80L403.27 123.39L404.36 122.98L404.49 122.93M411.82 120.14L412.90 119.72L413.99 119.30L415.07 118.88L416.16 118.45L417.24 118.03L418.33 117.60L418.46 117.55M425.65 114.71L426.73 114.28L427.82 113.84L428.90 113.41L429.99 112.97L431.07 112.53L432.16 112.10M439.62 109.07L440.70 108.63L441.79 108.18L442.87 107.74L443.96 107.29L445.04 106.85L446.13 106.40M453.45 103.37L454.54 102.92L455.62 102.47L456.71 102.02L457.79 101.57L458.88 101.12L459.96 100.67M467.42 97.55L468.51 97.10L469.59 96.64L470.68 96.19L471.76 95.74L472.85 95.28L473.93 94.83M481.26 91.77L482.34 91.31L483.43 90.86L484.51 90.41L485.60 89.96L486.68 89.50L487.77 89.05M495.23 85.95L496.31 85.50L497.39 85.06L498.48 84.61L499.56 84.16L500.65 83.71L501.74 83.27M509.06 80.27L510.14 79.83L511.23 79.39L512.31 78.95L513.40 78.51L514.48 78.07L515.57 77.63M523.03 74.64L524.11 74.21L525.20 73.78L526.28 73.36L527.37 72.93L528.45 72.50L529.54 72.08L529.67 72.02M536.86 69.24L537.95 68.82L539.03 68.41L540.12 67.99L541.20 67.58L542.29 67.17L543.37 66.76L543.51 66.71M550.83 63.98L551.92 63.59L553.00 63.19L554.09 62.80L555.17 62.40L556.26 62.01L557.34 61.62L557.48 61.57M564.66 59.03L565.75 58.65L566.84 58.28L567.92 57.90L569.00 57.53L570.09 57.16L571.17 56.79L571.31 56.75M578.63 54.31L579.72 53.96L580.80 53.61L581.89 53.26L582.97 52.92L584.06 52.57L585.14 52.23L585.42 52.14M592.47 49.97L593.55 49.64L594.64 49.32L595.72 49.00L596.81 48.68L597.89 48.36L598.98 48.05L599.25 47.97M606.44 45.94L607.52 45.65L608.61 45.35L609.69 45.06L610.78 44.77L611.86 44.49L612.95 44.20L613.22 44.13M620.27 42.35L621.36 42.08L622.44 41.82L623.53 41.56L624.61 41.30L625.70 41.05L626.78 40.80L627.19 40.70M634.24 39.14L635.33 38.91L636.41 38.68L637.50 38.45L638.58 38.23L639.67 38.01L640.75 37.80L641.16 37.72M648.07 36.41L649.16 36.21L650.24 36.02L651.33 35.83L652.41 35.64L653.50 35.46L654.58 35.28L654.99 35.21M662.04 34.12L663.13 33.96L664.21 33.80L665.30 33.65L666.38 33.50L667.47 33.36L668.55 33.22L669.10 33.15M675.88 32.33L676.96 32.21L678.05 32.10L679.13 31.99L680.22 31.88L681.30 31.77L682.39 31.67L682.93 31.62M689.85 31.04L690.93 30.96L692.02 30.88L693.10 30.81L694.19 30.74L695.27 30.67L696.36 30.61L696.90 30.58M703.68 30.26L704.77 30.22L705.85 30.19L706.94 30.15L708.02 30.12L709.11 30.10L710.19 30.07L710.73 30.06M717.65 30.00L718.74 30.00L719.82 30.01L720.90 30.01L721.99 30.03L723.08 30.04L724.16 30.06L724.70 30.07M731.48 30.26L732.57 30.30L733.65 30.34L734.74 30.39L735.82 30.44L736.91 30.50L737.99 30.56L738.54 30.59M745.45 31.04L746.54 31.12L747.62 31.21L748.71 31.29L749.79 31.39L750.88 31.48L751.96 31.58L752.51 31.63M759.29 32.32L760.37 32.44L761.46 32.57L762.54 32.69L763.63 32.82L764.71 32.96L765.80 33.09L766.34 33.16M773.26 34.12L774.34 34.28L775.43 34.44L776.51 34.61L777.60 34.78L778.68 34.95L779.77 35.12L780.31 35.21M787.09 36.38L788.17 36.58L789.26 36.78L790.35 36.98L791.43 37.19L792.51 37.40L793.60 37.61L794.01 37.69" stroke-width="3.2"/>
<path d="M150.03 152.83h0.01M158.47 154.53h0.01M166.93 156.04h0.01M175.38 157.38h0.01M183.82 158.52h0.01M192.28 159.48h0.01M200.73 160.25h0.01M209.18 160.82h0.01M217.62 161.19h0.01M226.08 161.37h0.01M234.53 161.35h0.01M242.98 161.13h0.01M251.43 160.71h0.01M259.88 160.10h0.01M268.33 159.29h0.01M276.78 158.30h0.01M285.23 157.11h0.01M293.68 155.74h0.01M302.12 154.18h0.01M310.57 152.45h0.01M319.02 150.54h0.01M327.47 148.47h0.01M335.92 146.24h0.01M344.37 143.85h0.01M352.82 141.32h0.01M361.27 138.65h0.01M369.72 135.85h0.01M378.17 132.93h0.01M386.62 129.89h0.01M395.07 126.76h0.01M403.52 123.53h0.01M411.97 120.22h0.01M420.42 116.84h0.01M428.87 113.40h0.01M437.32 109.92h0.01M445.77 106.40h0.01M454.22 102.86h0.01M462.67 99.30h0.01M471.12 95.74h0.01M479.57 92.18h0.01M488.02 88.64h0.01M496.47 85.11h0.01M504.92 81.61h0.01M513.37 78.16h0.01M521.82 74.76h0.01M530.27 71.43h0.01M538.72 68.17h0.01M547.17 64.98h0.01M555.62 61.89h0.01M564.07 58.90h0.01M572.52 56.02h0.01M580.97 53.26h0.01M589.42 50.62h0.01M597.87 48.11h0.01M606.32 45.74h0.01M614.77 43.52h0.01M623.22 41.45h0.01M631.67 39.54h0.01M640.12 37.79h0.01M648.57 36.21h0.01M657.02 34.80h0.01M665.47 33.57h0.01M673.92 32.51h0.01M682.37 31.64h0.01M690.82 30.95h0.01M699.27 30.45h0.01M707.72 30.13h0.01M716.17 30.00h0.01M724.62 30.06h0.01M733.07 30.31h0.01M741.52 30.75h0.01M749.98 31.38h0.01M758.43 32.18h0.01M766.88 33.18h0.01M775.33 34.35h0.01M783.78 35.70h0.01M792.23 37.22h0.01" stroke-width="3.9"/>
<path d="M150.03 168.94h0.01M158.47 170.84h0.01M166.93 172.54h0.01M175.38 174.04h0.01M183.82 175.32h0.01M192.28 176.40h0.01M200.73 177.26h0.01M209.18 177.90h0.01M217.62 178.32h0.01M226.08 178.52h0.01M234.53 178.49h0.01M242.98 178.25h0.01M251.43 177.78h0.01M259.88 177.09h0.01M268.33 176.19h0.01M276.78 175.07h0.01M285.23 173.73h0.01M293.68 172.19h0.01M302.12 170.45h0.01M310.57 168.51h0.01M319.02 166.37h0.01M327.47 164.04h0.01M335.92 161.53h0.01M344.37 158.85h0.01M352.82 156.00h0.01M361.27 152.99h0.01M369.72 149.83h0.01M378.17 146.52h0.01M386.62 143.09h0.01M395.07 139.54h0.01M403.52 135.89h0.01M411.97 132.14h0.01M420.42 128.30h0.01M428.87 124.40h0.01M437.32 120.44h0.01M445.77 116.44h0.01M454.22 112.41h0.01M462.67 108.36h0.01M471.12 104.31h0.01M479.57 100.28h0.01M488.02 96.27h0.01M496.47 92.28h0.01M504.92 88.33h0.01M513.37 84.42h0.01M521.82 80.58h0.01M530.27 76.81h0.01M538.72 73.12h0.01M547.17 69.52h0.01M555.62 66.03h0.01M564.07 62.65h0.01M572.52 59.39h0.01M580.97 56.27h0.01M589.42 53.29h0.01M597.87 50.45h0.01M606.32 47.78h0.01M614.77 45.27h0.01M623.22 42.93h0.01M631.67 40.77h0.01M640.12 38.79h0.01M648.57 37.01h0.01M657.02 35.42h0.01M665.47 34.02h0.01M673.92 32.83h0.01M682.37 31.85h0.01M690.82 31.07h0.01M699.27 30.50h0.01M707.72 30.15h0.01M716.17 30.00h0.01M724.62 30.07h0.01M733.07 30.35h0.01M741.52 30.85h0.01M749.98 31.55h0.01M758.43 32.47h0.01M766.88 33.59h0.01M775.33 34.91h0.01M783.78 36.43h0.01M792.23 38.15h0.01" stroke-width="3.9"/>
</g>
<g stroke="#ff00ff" fill="none">
<circle cx="148.03" cy="32.00" r="3.6" fill="#fff" stroke-width="0.9"/>
<path d="M137.03 32.00H144.43M151.62 32.00H159.03M137.03 26.00V38.00M159.03 26.00V38.00" stroke-width="0.9"/>
<path d="M148.03 28.70V19.30M148.03 35.30V44.30M141.33 19.30H154.72M141.33 44.30H154.72" stroke-width="2.5"/>
</g>
<g stroke="#ff00ff" fill="none">
<circle cx="229.40" cy="26.30" r="3.6" fill="#fff" stroke-width="0.9"/>
<path d="M218.40 26.30H225.80M233.00 26.30H240.40M218.40 20.30V32.30M240.40 20.30V32.30" stroke-width="0.9"/>
<path d="M222.70 23.00H236.10M222.70 29.50H236.10" stroke-width="2.5"/>
</g>
<g stroke="#ff00ff" fill="none">
<circle cx="310.77" cy="21.20" r="3.6" fill="#fff" stroke-width="0.9"/>
<path d="M299.77 21.20H307.17M314.38 21.20H321.77M299.77 15.20V27.20M321.77 15.20V27.20" stroke-width="0.9"/>
<path d="M304.07 18.00H317.47M304.07 24.40H317.47" stroke-width="2.5"/>
</g>
<g stroke="#ff00ff" fill="none">
<circle cx="392.15" cy="32.00" r="3.6" fill="#fff" stroke-width="0.9"/>
<path d="M381.15 32.00H388.55M395.75 32.00H403.15M381.15 26.00V38.00M403.15 26.00V38.00" stroke-width="0.9"/>
<path d="M385.45 29.00H398.85M385.45 34.90H398.85" stroke-width="2.5"/>
</g>
<g stroke="#ff00ff" fill="none">
<circle cx="473.52" cy="21.40" r="3.6" fill="#fff" stroke-width="0.9"/>
<path d="M462.52 21.40H469.92M477.12 21.40H484.52M462.52 15.40V27.40M484.52 15.40V27.40" stroke-width="0.9"/>
<path d="M466.82 18.90H480.22M466.82 24.30H480.22" stroke-width="2.5"/>
</g>
<g stroke="#ff00ff" fill="none">
<circle cx="554.90" cy="37.60" r="3.6" fill="#fff" stroke-width="0.9"/>
<path d="M543.90 37.60H551.30M558.50 37.60H565.90M543.90 31.60V43.60M565.90 31.60V43.60" stroke-width="0.9"/>
<path d="M554.90 34.30V32.80M554.90 40.90V42.60M548.20 32.80H561.60M548.20 42.60H561.60" stroke-width="2.5"/>
</g>
<g stroke="#ff00ff" fill="none">
<circle cx="636.27" cy="28.30" r="3.6" fill="#fff" stroke-width="0.9"/>
<path d="M625.27 28.30H632.67M639.88 28.30H647.27M625.27 22.30V34.30M647.27 22.30V34.30" stroke-width="0.9"/>
<path d="M636.27 25.00V22.60M636.27 31.60V33.70M629.57 22.60H642.98M629.57 33.70H642.98" stroke-width="2.5"/>
</g>
<g stroke="#ff00ff" fill="none">
<circle cx="717.65" cy="30.00" r="3.6" fill="#fff" stroke-width="0.9"/>
<path d="M706.65 30.00H714.05M721.25 30.00H728.65M706.65 24.00V36.00M728.65 24.00V36.00" stroke-width="0.9"/>
<path d="M717.65 26.70V23.00M717.65 33.30V37.00M710.95 23.00H724.35M710.95 37.00H724.35" stroke-width="2.5"/>
</g>
<g stroke="#ff00ff" fill="none">
<circle cx="799.02" cy="31.70" r="3.6" fill="#fff" stroke-width="0.9"/>
<path d="M788.02 31.70H795.42M802.62 31.70H810.02M788.02 25.70V37.70M810.02 25.70V37.70" stroke-width="0.9"/>
<path d="M799.02 28.40V25.80M799.02 35.00V38.00M792.32 25.80H805.73M792.32 38.00H805.73" stroke-width="2.5"/>
</g>
<path d="M148.03 30.00 L175.15 30.00 L202.28 30.00 L229.40 30.00 L256.52 30.00 L283.65 30.00 L310.77 30.00 L337.90 30.00 L365.02 30.00 L392.15 30.00 L419.27 30.00 L446.40 30.00 L473.52 30.00 L500.65 30.00 L527.77 30.00 L554.90 30.00 L582.02 30.00 L609.15 30.00 L636.27 30.00 L663.40 30.00 L690.52 30.00 L717.65 30.00 L744.77 30.00 L771.90 30.00 L799.02 30.00" stroke="#ff00ff" fill="none" stroke-width="3.6" stroke-linejoin="round"/>
<g stroke="#ff00ff" fill="none" stroke-linecap="round">
<path d="M148.03 30.00L149.11 30.00L150.19 30.00L151.28 30.00L152.37 30.00L153.45 30.00L154.54 30.00L154.67 30.00M161.59 30.00L162.67 30.00L163.76 30.00L164.84 30.00L165.93 30.00L167.01 30.00L168.10 30.00L168.64 30.00M175.56 30.00L176.64 30.00L177.73 30.00L178.81 30.00L179.90 30.00L180.98 30.00L182.07 30.00L182.61 30.00M189.39 30.00L190.48 30.00L191.56 30.00L192.65 30.00L193.73 30.00L194.82 30.00L195.90 30.00L196.44 30.00M203.36 30.00L204.44 30.00L205.53 30.00L206.62 30.00L207.70 30.00L208.78 30.00L209.87 30.00L210.41 30.00M217.19 30.00L218.28 30.00L219.36 30.00L220.45 30.00L221.53 30.00L222.62 30.00L223.70 30.00L224.25 30.00M231.03 30.00L232.11 30.00L233.20 30.00L234.28 30.00L235.37 30.00L236.45 30.00L237.54 30.00L238.08 30.00M245.00 30.00L246.08 30.00L247.17 30.00L248.25 30.00L249.34 30.00L250.42 30.00L251.51 30.00L252.05 30.00M258.83 30.00L259.92 30.00L261.00 30.00L262.09 30.00L263.17 30.00L264.26 30.00L265.34 30.00L265.88 30.00M272.80 30.00L273.88 30.00L274.97 30.00L276.06 30.00L277.14 30.00L278.23 30.00L279.31 30.00L279.85 30.00M286.63 30.00L287.72 30.00L288.80 30.00L289.89 30.00L290.97 30.00L292.06 30.00L293.14 30.00L293.69 30.00M300.60 30.00L301.69 30.00L302.77 30.00L303.86 30.00L304.94 30.00L306.03 30.00L307.11 30.00L307.66 30.00M314.44 30.00L315.52 30.00L316.61 30.00L317.69 30.00L318.78 30.00L319.86 30.00L320.95 30.00L321.49 30.00M328.41 30.00L329.49 30.00L330.58 30.00L331.66 30.00L332.75 30.00L333.83 30.00L334.92 30.00L335.46 30.00M342.24 30.00L343.32 30.00L344.41 30.00L345.50 30.00L346.58 30.00L347.66 30.00L348.75 30.00L349.29 30.00M356.21 30.00L357.29 30.00L358.38 30.00L359.46 30.00L360.55 30.00L361.63 30.00L362.72 30.00L363.26 30.00M370.04 30.00L371.13 30.00L372.21 30.00L373.30 30.00L374.38 30.00L375.47 30.00L376.55 30.00L377.10 30.00M384.01 30.00L385.10 30.00L386.18 30.00L387.27 30.00L388.35 30.00L389.44 30.00L390.52 30.00L391.06 30.00M397.85 30.00L398.93 30.00L400.02 30.00L401.10 30.00L402.19 30.00L403.27 30.00L404.36 30.00L404.90 30.00M411.82 30.00L412.90 30.00L413.99 30.00L415.07 30.00L416.16 30.00L417.24 30.00L418.33 30.00L418.87 30.00M425.65 30.00L426.73 30.00L427.82 30.00L428.90 30.00L429.99 30.00L431.07 30.00L432.16 30.00L432.70 30.00M439.62 30.00L440.70 30.00L441.79 30.00L442.87 30.00L443.96 30.00L445.04 30.00L446.13 30.00L446.67 30.00M453.45 30.00L454.54 30.00L455.62 30.00L456.71 30.00L457.79 30.00L458.88 30.00L459.96 30.00L460.50 30.00M467.42 30.00L468.51 30.00L469.59 30.00L470.68 30.00L471.76 30.00L472.85 30.00L473.93 30.00L474.47 30.00M481.26 30.00L482.34 30.00L483.43 30.00L484.51 30.00L485.60 30.00L486.68 30.00L487.77 30.00L488.31 30.00M495.23 30.00L496.31 30.00L497.39 30.00L498.48 30.00L499.56 30.00L500.65 30.00L501.74 30.00L502.28 30.00M509.06 30.00L510.14 30.00L511.23 30.00L512.31 30.00L513.40 30.00L514.48 30.00L515.57 30.00L516.11 30.00M523.03 30.00L524.11 30.00L525.20 30.00L526.28 30.00L527.37 30.00L528.45 30.00L529.54 30.00L530.08 30.00M536.86 30.00L537.95 30.00L539.03 30.00L540.12 30.00L541.20 30.00L542.29 30.00L543.37 30.00L543.91 30.00M550.83 30.00L551.92 30.00L553.00 30.00L554.09 30.00L555.17 30.00L556.26 30.00L557.34 30.00L557.88 30.00M564.66 30.00L565.75 30.00L566.84 30.00L567.92 30.00L569.00 30.00L570.09 30.00L571.17 30.00L571.72 30.00M578.63 30.00L579.72 30.00L580.80 30.00L581.89 30.00L582.97 30.00L584.06 30.00L585.14 30.00L585.69 30.00M592.47 30.00L593.55 30.00L594.64 30.00L595.72 30.00L596.81 30.00L597.89 30.00L598.98 30.00L599.52 30.00M606.44 30.00L607.52 30.00L608.61 30.00L609.69 30.00L610.78 30.00L611.86 30.00L612.95 30.00L613.49 30.00M620.27 30.00L621.36 30.00L622.44 30.00L623.53 30.00L624.61 30.00L625.70 30.00L626.78 30.00L627.32 30.00M634.24 30.00L635.33 30.00L636.41 30.00L637.50 30.00L638.58 30.00L639.67 30.00L640.75 30.00L641.29 30.00M648.07 30.00L649.16 30.00L650.24 30.00L651.33 30.00L652.41 30.00L653.50 30.00L654.58 30.00L655.13 30.00M662.04 30.00L663.13 30.00L664.21 30.00L665.30 30.00L666.38 30.00L667.47 30.00L668.55 30.00L669.10 30.00M675.88 30.00L676.96 30.00L678.05 30.00L679.13 30.00L680.22 30.00L681.30 30.00L682.39 30.00L682.93 30.00M689.85 30.00L690.93 30.00L692.02 30.00L693.10 30.00L694.19 30.00L695.27 30.00L696.36 30.00L696.90 30.00M703.68 30.00L704.77 30.00L705.85 30.00L706.94 30.00L708.02 30.00L709.11 30.00L710.19 30.00L710.73 30.00M717.65 30.00L718.74 30.00L719.82 30.00L720.90 30.00L721.99 30.00L723.08 30.00L724.16 30.00L724.70 30.00M731.48 30.00L732.57 30.00L733.65 30.00L734.74 30.00L735.82 30.00L736.91 30.00L737.99 30.00L738.54 30.00M745.45 30.00L746.54 30.00L747.62 30.00L748.71 30.00L749.79 30.00L750.88 30.00L751.96 30.00L752.51 30.00M759.29 30.00L760.37 30.00L761.46 30.00L762.54 30.00L763.63 30.00L764.71 30.00L765.80 30.00L766.34 30.00M773.26 30.00L774.34 30.00L775.43 30.00L776.51 30.00L777.60 30.00L778.68 30.00L779.77 30.00L780.31 30.00M787.09 30.00L788.17 30.00L789.26 30.00L790.35 30.00L791.43 30.00L792.51 30.00L793.60 30.00L794.14 30.00" stroke-width="3.2"/>
<path d="M150.03 30.00h0.01M158.47 30.00h0.01M166.93 30.00h0.01M175.38 30.00h0.01M183.82 30.00h0.01M192.28 30.00h0.01M200.73 30.00h0.01M209.18 30.00h0.01M217.62 30.00h0.01M226.08 30.00h0.01M234.53 30.00h0.01M242.98 30.00h0.01M251.43 30.00h0.01M259.88 30.00h0.01M268.33 30.00h0.01M276.78 30.00h0.01M285.23 30.00h0.01M293.68 30.00h0.01M302.12 30.00h0.01M310.57 30.00h0.01M319.02 30.00h0.01M327.47 30.00h0.01M335.92 30.00h0.01M344.37 30.00h0.01M352.82 30.00h0.01M361.27 30.00h0.01M369.72 30.00h0.01M378.17 30.00h0.01M386.62 30.00h0.01M395.07 30.00h0.01M403.52 30.00h0.01M411.97 30.00h0.01M420.42 30.00h0.01M428.87 30.00h0.01M437.32 30.00h0.01M445.77 30.00h0.01M454.22 30.00h0.01M462.67 30.00h0.01M471.12 30.00h0.01M479.57 30.00h0.01M488.02 30.00h0.01M496.47 30.00h0.01M504.92 30.00h0.01M513.37 30.00h0.01M521.82 30.00h0.01M530.27 30.00h0.01M538.72 30.00h0.01M547.17 30.00h0.01M555.62 30.00h0.01M564.07 30.00h0.01M572.52 30.00h0.01M580.97 30.00h0.01M589.42 30.00h0.01M597.87 30.00h0.01M606.32 30.00h0.01M614.77 30.00h0.01M623.22 30.00h0.01M631.67 30.00h0.01M640.12 30.00h0.01M648.57 30.00h0.01M657.02 30.00h0.01M665.47 30.00h0.01M673.92 30.00h0.01M682.37 30.00h0.01M690.82 30.00h0.01M699.27 30.00h0.01M707.72 30.00h0.01M716.17 30.00h0.01M724.62 30.00h0.01M733.07 30.00h0.01M741.52 30.00h0.01M749.98 30.00h0.01M758.43 30.00h0.01M766.88 30.00h0.01M775.33 30.00h0.01M783.78 30.00h0.01M792.23 30.00h0.01" stroke-width="3.9" transform="translate(0 -0.9)"/>
</g>
<g stroke="#ff00ff" fill="none">
<circle cx="799.02" cy="31.70" r="3.6" fill="#fff" stroke-width="0.9"/>
<path d="M788.02 31.70H795.42M802.62 31.70H810.02M788.02 25.70V37.70M810.02 25.70V37.70" stroke-width="0.9"/>
<path d="M799.02 28.40V25.80M799.02 35.00V38.00M792.32 25.80H805.73M792.32 38.00H805.73" stroke-width="2.5"/>
</g>
<g stroke="#000000" fill="none">
<circle cx="148.03" cy="506.50" r="3.6" fill="#fff" stroke-width="0.9"/>
<path d="M137.03 506.50H144.43M151.62 506.50H159.03M137.03 500.50V512.50M159.03 500.50V512.50" stroke-width="0.9"/>
<path d="M148.03 503.20V500.70M148.03 509.80V521.60M141.33 500.70H154.72M141.33 521.60H154.72" stroke-width="2.5"/>
</g>
<g stroke="#000000" fill="none">
<circle cx="229.40" cy="515.30" r="3.6" fill="#fff" stroke-width="0.9"/>
<path d="M218.40 515.30H225.80M233.00 515.30H240.40M218.40 509.30V521.30M240.40 509.30V521.30" stroke-width="0.9"/>
<path d="M229.40 518.60V530.40M222.70 511.80H236.10M222.70 530.40H236.10" stroke-width="2.5"/>
</g>
<g stroke="#000000" fill="none">
<circle cx="310.77" cy="511.30" r="3.6" fill="#fff" stroke-width="0.9"/>
<path d="M299.77 511.30H307.17M314.38 511.30H321.77M299.77 505.30V517.30M321.77 505.30V517.30" stroke-width="0.9"/>
<path d="M310.77 508.00V506.50M310.77 514.60V525.60M304.07 506.50H317.47M304.07 525.60H317.47" stroke-width="2.5"/>
</g>
<g stroke="#000000" fill="none">
<circle cx="392.15" cy="439.90" r="3.6" fill="#fff" stroke-width="0.9"/>
<path d="M381.15 439.90H388.55M395.75 439.90H403.15M381.15 433.90V445.90M403.15 433.90V445.90" stroke-width="0.9"/>
<path d="M392.15 436.60V435.30M392.15 443.20V444.50M385.45 435.30H398.85M385.45 444.50H398.85" stroke-width="2.5"/>
</g>
<g stroke="#000000" fill="none">
<circle cx="473.52" cy="313.80" r="3.6" fill="#fff" stroke-width="0.9"/>
<path d="M462.52 313.80H469.92M477.12 313.80H484.52M462.52 307.80V319.80M484.52 307.80V319.80" stroke-width="0.9"/>
<path d="M473.52 310.50V308.80M473.52 317.10V318.80M466.82 308.80H480.22M466.82 318.80H480.22" stroke-width="2.5"/>
</g>
<g stroke="#000000" fill="none">
<circle cx="554.90" cy="175.00" r="3.6" fill="#fff" stroke-width="0.9"/>
<path d="M543.90 175.00H551.30M558.50 175.00H565.90M543.90 169.00V181.00M565.90 169.00V181.00" stroke-width="0.9"/>
<path d="M548.20 172.50H561.60M548.20 177.60H561.60" stroke-width="2.5"/>
</g>
<g stroke="#000000" fill="none">
<circle cx="636.27" cy="62.40" r="3.6" fill="#fff" stroke-width="0.9"/>
<path d="M625.27 62.40H632.67M639.88 62.40H647.27M625.27 56.40V68.40M647.27 56.40V68.40" stroke-width="0.9"/>
<path d="M636.27 59.10V56.50M636.27 65.70V68.60M629.57 56.50H642.98M629.57 68.60H642.98" stroke-width="2.5"/>
</g>
<g stroke="#000000" fill="none">
<circle cx="717.65" cy="33.10" r="3.6" fill="#fff" stroke-width="0.9"/>
<path d="M706.65 33.10H714.05M721.25 33.10H728.65M706.65 27.10V39.10M728.65 27.10V39.10" stroke-width="0.9"/>
<path d="M710.95 30.30H724.35M710.95 35.90H724.35" stroke-width="2.5"/>
</g>
<g stroke="#000000" fill="none">
<circle cx="799.02" cy="56.30" r="3.6" fill="#fff" stroke-width="0.9"/>
<path d="M788.02 56.30H795.42M802.62 56.30H810.02M788.02 50.30V62.30M810.02 50.30V62.30" stroke-width="0.9"/>
<path d="M799.02 53.00V49.90M799.02 59.60V63.20M792.32 49.90H805.73M792.32 63.20H805.73" stroke-width="2.5"/>
</g>
<g stroke="#000" stroke-width="2.2" fill="none" stroke-linecap="butt">
<path d="M121.0 576.8V4.0H826.5V582.8M119.9 576.8H826.5"/>
<path d="M120.90 576.8V582.8M148.03 576.8V588.3M148.03 4.0V16.0M175.15 576.8V582.8M175.15 4.0V10.5M202.28 576.8V582.8M202.28 4.0V10.5M229.40 576.8V588.3M229.40 4.0V16.0M256.52 576.8V582.8M256.52 4.0V10.5M283.65 576.8V582.8M283.65 4.0V10.5M310.77 576.8V588.3M310.77 4.0V16.0M337.90 576.8V582.8M337.90 4.0V10.5M365.02 576.8V582.8M365.02 4.0V10.5M392.15 576.8V588.3M392.15 4.0V16.0M419.27 576.8V582.8M419.27 4.0V10.5M446.40 576.8V582.8M446.40 4.0V10.5M473.52 576.8V588.3M473.52 4.0V16.0M500.65 576.8V582.8M500.65 4.0V10.5M527.77 576.8V582.8M527.77 4.0V10.5M554.90 576.8V588.3M554.90 4.0V16.0M582.02 576.8V582.8M582.02 4.0V10.5M609.15 576.8V582.8M609.15 4.0V10.5M636.27 576.8V588.3M636.27 4.0V16.0M663.40 576.8V582.8M663.40 4.0V10.5M690.52 576.8V582.8M690.52 4.0V10.5M717.65 576.8V588.3M717.65 4.0V16.0M744.77 576.8V582.8M744.77 4.0V10.5M771.90 576.8V582.8M771.90 4.0V10.5M799.02 576.8V588.3M799.02 4.0V16.0"/>
<path d="M121.0 550.00H133.0M826.5 550.00H814.5M121.0 524.00H127.5M826.5 524.00H820.0M121.0 498.00H133.0M826.5 498.00H814.5M121.0 472.00H127.5M826.5 472.00H820.0M121.0 446.00H133.0M826.5 446.00H814.5M121.0 420.00H127.5M826.5 420.00H820.0M121.0 394.00H133.0M826.5 394.00H814.5M121.0 368.00H127.5M826.5 368.00H820.0M121.0 342.00H133.0M826.5 342.00H814.5M121.0 316.00H127.5M826.5 316.00H820.0M121.0 290.00H133.0M826.5 290.00H814.5M121.0 264.00H127.5M826.5 264.00H820.0M121.0 238.00H133.0M826.5 238.00H814.5M121.0 212.00H127.5M826.5 212.00H820.0M121.0 186.00H133.0M826.5 186.00H814.5M121.0 160.00H127.5M826.5 160.00H820.0M121.0 134.00H133.0M826.5 134.00H814.5M121.0 108.00H127.5M826.5 108.00H820.0M121.0 82.00H133.0M826.5 82.00H814.5M121.0 56.00H127.5M826.5 56.00H820.0M121.0 30.00H133.0M826.5 30.00H814.5"/>
</g>
<g class="tg">
<path d="M619.5 245.7H681" stroke="#ff00ff" stroke-width="3.4" stroke-linecap="round"/>
<circle cx="649.8" cy="245.7" r="8.1" fill="#fff" stroke="#ff00ff" stroke-width="2.8"/>
<text transform="translate(687.30 255.90) scale(1.0 1.035)" font-size="29.3" class="t" text-anchor="start">0</text>
<path d="M619.5 279.7H681" stroke="#ff0000" stroke-width="3.4" stroke-linecap="round"/>
<circle cx="649.8" cy="279.7" r="8.1" fill="#fff" stroke="#ff0000" stroke-width="2.8"/>
<text transform="translate(687.30 289.90) scale(1.0 1.035)" font-size="29.3" class="t" text-anchor="start">30</text>
<path d="M619.5 313.3H681" stroke="#00ff00" stroke-width="3.4" stroke-linecap="round"/>
<circle cx="649.8" cy="313.3" r="8.1" fill="#fff" stroke="#00ff00" stroke-width="2.8"/>
<text transform="translate(687.30 323.50) scale(1.0 1.035)" font-size="29.3" class="t" text-anchor="start">45</text>
<path d="M619.5 347.2H681" stroke="#0000ff" stroke-width="3.4" stroke-linecap="round"/>
<circle cx="649.8" cy="347.2" r="8.1" fill="#fff" stroke="#0000ff" stroke-width="2.8"/>
<text transform="translate(687.30 357.40) scale(1.0 1.035)" font-size="29.3" class="t" text-anchor="start">60</text>
<path d="M619.5 381.3H681" stroke="#000000" stroke-width="3.4" stroke-linecap="round"/>
<circle cx="649.8" cy="381.3" r="8.1" fill="#fff" stroke="#000000" stroke-width="2.8"/>
<text transform="translate(687.30 391.50) scale(1.0 1.035)" font-size="29.3" class="t" text-anchor="start">90</text>
<g fill="none" stroke="#000" stroke-linecap="round" stroke-linejoin="round"><path d="M663.3 189.9Q661.6 189.8 661.8 191.0Q662.0 192.4 662.9 193.0" stroke-width="0.9"/><path d="M662.9 193.0Q666 192.8 669.3 191.1" stroke-width="1.5"/><path d="M667.6 191.7L669.4 190.9" stroke-width="2.3"/><path d="M662.9 193.0Q660.6 195.6 659.8 199.0" stroke-width="1.2"/><path d="M660.1 199.0Q659.0 204.3 661.3 206.4Q662.8 207.6 666.0 208.2" stroke-width="2.1"/><path d="M666.0 208.2Q669.6 208.8 670.0 211.0Q670.2 213.0 667.6 213.8" stroke-width="1.5"/><path d="M667.6 213.8L665.6 214.1" stroke-width="2.4"/></g>
<text transform="translate(671.60 220.10) scale(1.0 1.0)" font-size="28.5" class="t" text-anchor="start">z</text>
<text transform="translate(147.43 619.60) scale(1.0 1.063)" font-size="29.1" class="t" text-anchor="middle">-15</text>
<text transform="translate(229.60 619.60) scale(1.0 1.063)" font-size="29.1" class="t" text-anchor="middle">0</text>
<text transform="translate(310.17 619.60) scale(1.0 1.063)" font-size="29.1" class="t" text-anchor="middle">15</text>
<text transform="translate(391.55 619.60) scale(1.0 1.063)" font-size="29.1" class="t" text-anchor="middle">30</text>
<text transform="translate(472.92 619.60) scale(1.0 1.063)" font-size="29.1" class="t" text-anchor="middle">45</text>
<text transform="translate(554.60 619.60) scale(1.0 1.063)" font-size="29.1" class="t" text-anchor="middle">60</text>
<text transform="translate(636.38 619.60) scale(1.0 1.063)" font-size="29.1" class="t" text-anchor="middle">75</text>
<text transform="translate(717.75 619.60) scale(1.0 1.063)" font-size="29.1" class="t" text-anchor="middle">90</text>
<text transform="translate(799.82 619.60) scale(1.0 1.063)" font-size="29.1" class="t" text-anchor="middle">105</text>
<text transform="translate(109.30 559.70) scale(1.0 1.063)" letter-spacing="0.6" font-size="29.1" class="t" text-anchor="end">0.0</text>
<text transform="translate(109.30 507.70) scale(1.0 1.063)" letter-spacing="0.6" font-size="29.1" class="t" text-anchor="end">0.1</text>
<text transform="translate(109.30 455.70) scale(1.0 1.063)" letter-spacing="0.6" font-size="29.1" class="t" text-anchor="end">0.2</text>
<text transform="translate(109.30 403.70) scale(1.0 1.063)" letter-spacing="0.6" font-size="29.1" class="t" text-anchor="end">0.3</text>
<text transform="translate(109.30 351.70) scale(1.0 1.063)" letter-spacing="0.6" font-size="29.1" class="t" text-anchor="end">0.4</text>
<text transform="translate(109.30 299.70) scale(1.0 1.063)" letter-spacing="0.6" font-size="29.1" class="t" text-anchor="end">0.5</text>
<text transform="translate(109.30 247.70) scale(1.0 1.063)" letter-spacing="0.6" font-size="29.1" class="t" text-anchor="end">0.6</text>
<text transform="translate(109.30 195.70) scale(1.0 1.063)" letter-spacing="0.6" font-size="29.1" class="t" text-anchor="end">0.7</text>
<text transform="translate(109.30 143.70) scale(1.0 1.063)" letter-spacing="0.6" font-size="29.1" class="t" text-anchor="end">0.8</text>
<text transform="translate(109.30 91.70) scale(1.0 1.063)" letter-spacing="0.6" font-size="29.1" class="t" text-anchor="end">0.9</text>
<text transform="translate(109.30 39.70) scale(1.0 1.063)" letter-spacing="0.6" font-size="29.1" class="t" text-anchor="end">1.0</text>
<text transform="translate(44 320.9) rotate(-90)" font-size="45.8" class="t" text-anchor="middle">Probe Transmission (a.u.)</text>
<g fill="none" stroke="#000" stroke-linecap="round" stroke-linejoin="round"><path d="M373.6 656.0Q371.0 655.7 371.2 657.5Q371.6 659.3 373.4 659.9" stroke-width="1.0"/><path d="M373.4 659.9Q377.2 659.6 380.6 657.6" stroke-width="1.7"/><path d="M378.6 658.4L381.0 657.2" stroke-width="2.9"/><path d="M373.4 659.9Q371.4 663.6 374.9 667.8" stroke-width="1.3"/><path d="M374.9 667.8Q378.6 667.9 382.4 667.0" stroke-width="1.8"/><path d="M380.2 667.3L382.8 666.9" stroke-width="2.9"/><path d="M374.9 667.9Q372.2 669.8 371.0 672.6" stroke-width="1.5"/><path d="M371.0 672.6Q368.8 678.0 372.2 681.0Q374.4 682.6 379.6 683.2L382.4 683.8" stroke-width="2.9"/><path d="M382.4 683.8Q385.9 684.8 386.4 686.8Q387.0 689.6 383.4 690.7" stroke-width="1.9"/><path d="M383.4 690.7L379.6 691.3" stroke-width="3.0"/></g>
<text transform="translate(387.50 701.70) scale(1.0 1.0)" font-size="28" class="t" text-anchor="start">z</text>
<text transform="translate(410.00 686.00) scale(1.0 1.032)" font-size="46.1" class="t" text-anchor="start">(degrees)</text>
</g>
</svg>
</body></html>
